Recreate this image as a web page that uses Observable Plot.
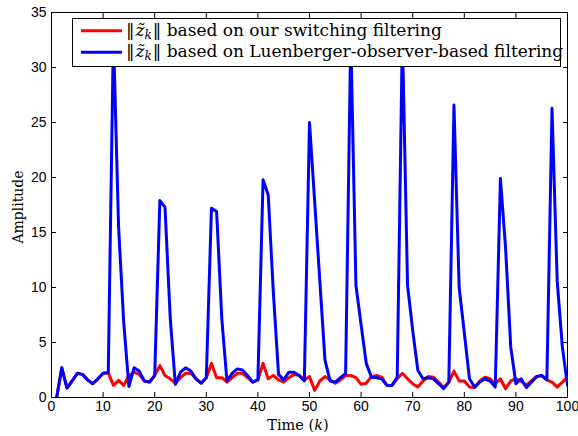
<!DOCTYPE html>
<html><head><meta charset="utf-8">
<script src="https://cdn.jsdelivr.net/npm/d3@7"></script>
<script src="https://cdn.jsdelivr.net/npm/@observablehq/plot@0.6"></script>
<style>html,body{margin:0;padding:0;background:#fff} svg{display:block}</style>
</head><body><div id="chart"></div>
<script>
// Time steps k = 1..100
const timeSteps = d3.range(1, 101);

// ||z~_k|| based on our switching filtering (red)
const switchingValues = [
  0, 2.7, 0.85, 1.5, 2.2, 2.1, 1.6, 1.25, 1.7, 2.2,
  2.25, 1.1, 1.55, 1.1, 2.0, 2.3, 2.1, 1.5, 1.4, 2.0,
  2.9, 2.0, 1.7, 1.3, 1.8, 2.2, 2.2, 1.7, 1.3, 1.8,
  3.1, 1.8, 1.8, 1.4, 1.8, 2.2, 2.2, 1.8, 1.4, 1.6,
  3.1, 1.7, 2.0, 1.6, 1.4, 1.8, 2.1, 2.0, 1.6, 1.9,
  0.65, 1.5, 1.9, 1.6, 1.3, 1.6, 2.0, 2.0, 1.8, 1.2,
  1.3, 1.9, 2.0, 1.85, 1.1, 1.1, 1.7, 2.2, 1.7, 1.25,
  0.95, 1.5, 1.9, 1.85, 1.4, 0.9, 1.4, 2.4, 1.5, 1.5,
  0.95, 0.9, 1.5, 1.85, 1.7, 1.25, 1.7, 0.8, 1.5, 1.7,
  1.5, 1.1, 1.5, 1.9, 2.0, 1.6, 1.4, 0.95, 1.4, 1.85
];

// ||z~_k|| based on Luenberger-observer-based filtering (blue)
const luenbergerValues = [
  0, 2.7, 0.85, 1.5, 2.2, 2.1, 1.6, 1.25, 1.7, 2.2,
  2.25, 33, 15.5, 6.8, 1.0, 2.7, 2.4, 1.5, 1.4, 2.0,
  17.9, 17.3, 7.3, 1.2, 2.3, 2.7, 2.4, 1.7, 1.3, 1.8,
  17.2, 16.9, 7.2, 1.5, 2.2, 2.6, 2.5, 2.0, 1.4, 1.6,
  19.8, 18.4, 9.5, 2.1, 1.6, 2.3, 2.3, 2.0, 1.5, 25.0,
  17.8, 10.6, 3.4, 1.5, 1.4, 1.8, 2.2, 33, 10.2, 6.6,
  3.1, 1.85, 1.8, 1.7, 1.1, 1.1, 1.85, 33, 10.2, 6.1,
  2.45, 1.7, 1.8, 1.7, 1.25, 0.8, 1.4, 26.6, 10.0, 5.9,
  1.7, 0.95, 1.4, 1.7, 1.5, 0.95, 19.9, 13.6, 4.6, 1.25,
  1.7, 0.9, 1.4, 1.9, 2.0, 1.6, 26.3, 10.6, 4.6, 1.1
];

const xTicks = [0, 10, 20, 30, 40, 50, 60, 70, 80, 90, 100];
const yTicks = [0, 5, 10, 15, 20, 25, 30, 35];
const seriesNames = ["based on our switching filtering", "based on Luenberger-observer-based filtering"];
const seriesColors = ["#ff0000", "#0000ff"];

const redRows = timeSteps.map((k, i) => ({k, v: switchingValues[i]}));
const blueRows = timeSteps.map((k, i) => ({k, v: luenbergerValues[i]}));

const plot = Plot.plot({
  width: 578, height: 436,
  marginLeft: 51, marginRight: 11, marginTop: 12, marginBottom: 39,
  style: {fontFamily: "'Liberation Sans', Arial, sans-serif", fontSize: "14px", color: "#000", background: "#fff"},
  x: {domain: [0, 100], ticks: xTicks},
  y: {domain: [0, 35], ticks: yTicks},
  marks: [
    Plot.line(redRows, {x: "k", y: "v", stroke: seriesColors[0], strokeWidth: 3, clip: true}),
    Plot.line(blueRows, {x: "k", y: "v", stroke: seriesColors[1], strokeWidth: 3, clip: true}),
    Plot.frame({stroke: "#000", strokeWidth: 1}),
    Plot.axisX({ticks: xTicks, tickSize: -5, tickPadding: 9, label: null}),
    Plot.axisX({anchor: "top", ticks: xTicks, tickSize: -5, tickFormat: () => "", label: null}),
    Plot.axisY({ticks: yTicks, tickSize: -5, tickPadding: 10, label: null}),
    Plot.axisY({anchor: "right", ticks: yTicks, tickSize: -5, tickFormat: () => "", label: null})
  ]
});
document.getElementById("chart").appendChild(plot);

const svg = d3.select(plot);
const serif = "'DejaVu Serif', 'Liberation Serif', serif";

// Axis labels
svg.append("text")
  .attr("transform", "translate(23,207) rotate(-90)")
  .attr("text-anchor", "middle")
  .attr("font-family", serif).attr("font-size", 14).attr("fill", "#000")
  .text("Amplitude");
const xl = svg.append("text")
  .attr("x", 298).attr("y", 430)
  .attr("text-anchor", "middle")
  .attr("font-family", serif).attr("font-size", 14.5).attr("fill", "#000");
xl.append("tspan").text("Time (");
xl.append("tspan").attr("font-style", "italic").text("k");
xl.append("tspan").text(")");

// Legend
const lg = svg.append("g").attr("text-anchor", "start");
lg.append("rect").attr("x", 72.5).attr("y", 18.5).attr("width", 488).attr("height", 48)
  .attr("fill", "#fff").attr("stroke", "#000").attr("stroke-width", 1);
const rowsY = [30.7, 52.3];
seriesNames.forEach((name, i) => {
  lg.append("line").attr("x1", 81).attr("x2", 122).attr("y1", rowsY[i]).attr("y2", rowsY[i])
    .attr("stroke", seriesColors[i]).attr("stroke-width", 3);
  const t = lg.append("text").attr("x", 126).attr("y", rowsY[i] + 5)
    .attr("text-anchor", "start")
    .attr("font-family", serif).attr("font-size", 17).attr("fill", "#000");
  t.append("tspan").text("\u2016");
  t.append("tspan").attr("dx", 1).attr("font-style", "italic").text("z\u0303");
  t.append("tspan").attr("font-style", "italic").attr("font-size", 12).attr("dy", 3).text("k");
  t.append("tspan").attr("dy", -3).attr("dx", 1).text("\u2016 " + name);
});
</script>
</body></html>
